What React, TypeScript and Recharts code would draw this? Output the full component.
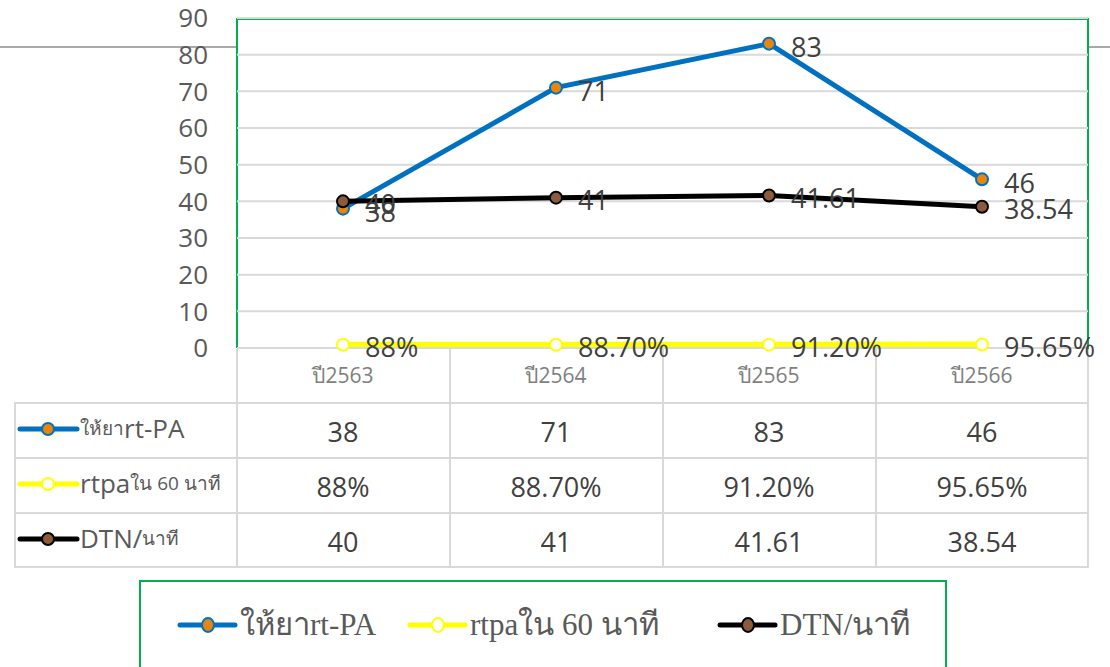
import { LineChart, Line, XAxis, YAxis, CartesianGrid, LabelList } from 'recharts';

// ค่าจากตาราง
const years = ['ปี2563', 'ปี2564', 'ปี2565', 'ปี2566'];
const rtpaGiven = [38, 71, 83, 46];
const rtpaIn60 = [0.88, 0.887, 0.912, 0.9565];
const rtpaIn60Text = ['88%', '88.70%', '91.20%', '95.65%'];
const dtnMinutes = [40, 41, 41.61, 38.54];
const dtnText = ['40', '41', '41.61', '38.54'];
const yTicks = [0, 10, 20, 30, 40, 50, 60, 70, 80, 90];

const data = years.map((year, i) => ({
  year,
  given: rtpaGiven[i],
  in60: rtpaIn60[i],
  dtn: dtnMinutes[i],
}));

const series = [
  { key: 'given', thai: 'ให้ยา', latin: 'rt-PA', latinFirst: false, stroke: '#0070c0', dot: '#e8850c', dotStroke: '#0070c0', labels: rtpaGiven.map(String) },
  { key: 'in60', thai: 'ใน 60 นาที', latin: 'rtpa', latinFirst: true, stroke: '#ffff00', dot: '#ffffff', dotStroke: '#ffff00', labels: rtpaIn60Text },
  { key: 'dtn', thai: 'นาที', latin: 'DTN/', latinFirst: true, stroke: '#000000', dot: '#8c5a3c', dotStroke: '#000000', labels: dtnText },
];

const SANS = '"Open Sans", "Noto Sans", sans-serif';
const SERIF = '"Liberation Serif", "DejaVu Serif", serif';
const PLOT_LEFT = 237;
const PLOT_RIGHT = 1088;
const PLOT_TOP = 18;
const PLOT_BOTTOM = 348;
const ROW_LINES = [403, 458, 513, 567];
const COL_LINES = [237, 450, 663, 876, 1088];
const ROW_CENTERS = [431, 486, 541];

const TableTick = (props: any) => {
  const { x, payload, index } = props;
  return (
    <g>
      <text x={x} y={375} textAnchor="middle" dominantBaseline="central" fontFamily={SANS} fontSize={21} fill="#7f7f7f">
        {payload.value}
      </text>
      {series.map((s, r) => (
        <text key={s.key} x={x} y={ROW_CENTERS[r]} textAnchor="middle" dominantBaseline="central" fontFamily={SANS} fontSize={27} fill="#404040">
          {s.labels[index]}
        </text>
      ))}
    </g>
  );
};

const makeLabel = (labels: string[], dy: number) => (props: any) => {
  const { x, y, index } = props;
  return (
    <text x={x + 22} y={y + dy} dominantBaseline="central" fontFamily={SANS} fontSize={27} fill="#404040">
      {labels[index]}
    </text>
  );
};

const legendX = [180, 410, 720];

export default function App() {
  return (
    <div style={{ position: 'absolute', left: 0, top: 0, width: 1110, height: 667, background: '#fff', overflow: 'hidden' }}>
      <svg width={1110} height={667} style={{ position: 'absolute', left: 0, top: 0 }}>
        <line x1={0} x2={PLOT_LEFT} y1={47} y2={47} stroke="#8c8c8c" strokeWidth={1.5} />
        <line x1={PLOT_RIGHT} x2={1110} y1={47} y2={47} stroke="#8c8c8c" strokeWidth={1.5} />
        <polyline
          points={`${PLOT_LEFT},${PLOT_BOTTOM} ${PLOT_LEFT},${PLOT_TOP + 1} ${PLOT_RIGHT},${PLOT_TOP + 1} ${PLOT_RIGHT},${PLOT_BOTTOM + 2}`}
          fill="none"
          stroke="#00b050"
          strokeWidth={2}
        />
        {COL_LINES.map((cx) => (
          <line key={cx} x1={cx} x2={cx} y1={PLOT_BOTTOM + 1} y2={567} stroke="#d9d9d9" strokeWidth={2} />
        ))}
        <line x1={15} x2={15} y1={403} y2={567} stroke="#d9d9d9" strokeWidth={2} />
        {ROW_LINES.map((ry) => (
          <line key={ry} x1={14} x2={1089} y1={ry} y2={ry} stroke="#d9d9d9" strokeWidth={2} />
        ))}
        {series.map((s, r) => (
          <g key={s.key}>
            <line x1={20} x2={77} y1={ROW_CENTERS[r] - 2} y2={ROW_CENTERS[r] - 2} stroke={s.stroke} strokeWidth={5} strokeLinecap="round" />
            <circle cx={48} cy={ROW_CENTERS[r] - 2} r={6} fill={s.dot} stroke={s.dotStroke} strokeWidth={2} />
            <text x={80} y={ROW_CENTERS[r] - 3} dominantBaseline="central" fontFamily={SANS} fill="#595959">
              {s.latinFirst ? (
                <>
                  <tspan fontSize={26}>{s.latin}</tspan>
                  <tspan fontSize={19}>{s.thai}</tspan>
                </>
              ) : (
                <>
                  <tspan fontSize={19}>{s.thai}</tspan>
                  <tspan fontSize={26}>{s.latin}</tspan>
                </>
              )}
            </text>
          </g>
        ))}
        <rect x={140} y={581} width={806} height={100} fill="none" stroke="#00b050" strokeWidth={2} />
        {series.map((s, i) => (
          <g key={s.key}>
            <line x1={legendX[i]} x2={legendX[i] + 55} y1={625} y2={625} stroke={s.stroke} strokeWidth={5} strokeLinecap="round" />
            <ellipse cx={legendX[i] + 28} cy={625} rx={6} ry={7} fill={s.dot} stroke={s.dotStroke} strokeWidth={2} />
            <text x={legendX[i] + 60} y={624} dominantBaseline="central" fontFamily={SERIF} fontSize={31} fill="#595959">
              {s.latinFirst ? s.latin + s.thai : s.thai + s.latin}
            </text>
          </g>
        ))}
      </svg>
      <div style={{ position: 'absolute', left: 0, top: 0 }}>
        <LineChart width={1110} height={667} data={data} margin={{ top: PLOT_TOP, right: 1110 - PLOT_RIGHT, bottom: 0, left: 0 }}>
          <CartesianGrid vertical={false} stroke="#d9d9d9" strokeWidth={2} />
          <XAxis
            dataKey="year"
            height={667 - PLOT_BOTTOM}
            padding={{ left: 106, right: 106 }}
            axisLine={{ stroke: '#d9d9d9', strokeWidth: 2 }}
            tickLine={false}
            interval={0}
            tick={<TableTick />}
          />
          <YAxis
            width={PLOT_LEFT}
            domain={[0, 90]}
            ticks={yTicks}
            interval={0}
            axisLine={false}
            tickLine={false}
            tickMargin={23}
            tick={{ fontFamily: SANS, fontSize: 26, fill: '#595959' }}
          />
          <Line dataKey="given" stroke="#0070c0" strokeWidth={5} isAnimationActive={false}
            dot={{ r: 6, fill: '#e8850c', stroke: '#0070c0', strokeWidth: 2 }}>
            <LabelList dataKey="given" content={makeLabel(series[0].labels, 3)} />
          </Line>
          <Line dataKey="in60" stroke="#ffff00" strokeWidth={6} isAnimationActive={false}
            dot={{ r: 6, fill: '#ffffff', stroke: '#ffff00', strokeWidth: 2 }}>
            <LabelList dataKey="in60" content={makeLabel(series[1].labels, 2)} />
          </Line>
          <Line dataKey="dtn" stroke="#000000" strokeWidth={5} isAnimationActive={false}
            dot={{ r: 6, fill: '#8c5a3c', stroke: '#000000', strokeWidth: 2 }}>
            <LabelList dataKey="dtn" content={makeLabel(series[2].labels, 2)} />
          </Line>
        </LineChart>
      </div>
    </div>
  );
}
